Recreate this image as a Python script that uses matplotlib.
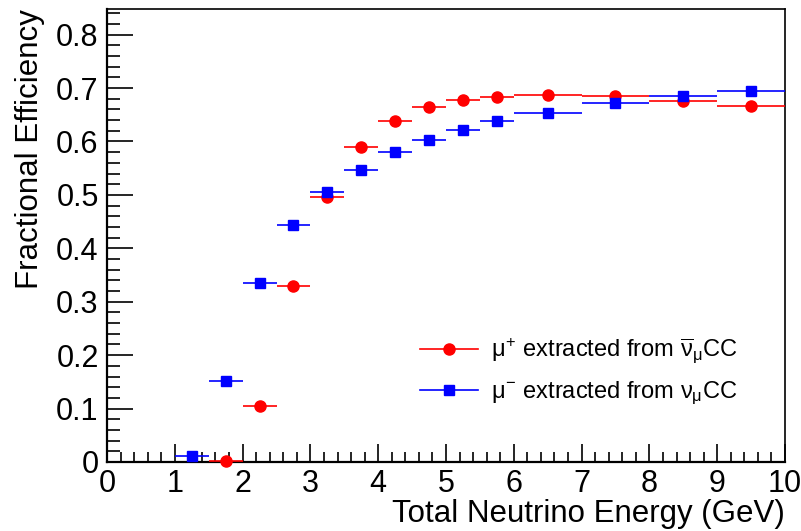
import matplotlib.pyplot as plt
from matplotlib.lines import Line2D
import numpy as np

plt.rcParams['font.family'] = ['Liberation Sans', 'DejaVu Sans']
plt.rcParams['mathtext.fontset'] = 'custom'
plt.rcParams['mathtext.rm'] = 'Liberation Sans'
plt.rcParams['mathtext.it'] = 'Liberation Sans'
plt.rcParams['mathtext.bf'] = 'Liberation Sans:bold'

# bin edges (GeV) and efficiencies
lo_plus = np.array([1.5, 2.0, 2.5, 3.0, 3.5, 4.0, 4.5, 5.0, 5.5, 6.0, 7.0, 8.0, 9.0])
hi_plus = np.array([2.0, 2.5, 3.0, 3.5, 4.0, 4.5, 5.0, 5.5, 6.0, 7.0, 8.0, 9.0, 10.0])
eff_plus = np.array([0.001, 0.105, 0.330, 0.496, 0.589, 0.639, 0.664, 0.678, 0.684, 0.687, 0.686, 0.676, 0.667])

lo_minus = np.array([1.0, 1.5, 2.0, 2.5, 3.0, 3.5, 4.0, 4.5, 5.0, 5.5, 6.0, 7.0, 8.0, 9.0])
hi_minus = np.array([1.5, 2.0, 2.5, 3.0, 3.5, 4.0, 4.5, 5.0, 5.5, 6.0, 7.0, 8.0, 9.0, 10.0])
eff_minus = np.array([0.011, 0.151, 0.336, 0.444, 0.505, 0.547, 0.581, 0.602, 0.622, 0.638, 0.654, 0.672, 0.685, 0.694])

lab_plus = r'$\mu^{+}$ extracted from $\overline{\nu}_{\mu}$CC'
lab_minus = r'$\mu^{-}$ extracted from $\nu_{\mu}$CC'

fig = plt.figure(figsize=(8.01, 5.31), dpi=100)
ax = fig.add_axes([0.1336, 0.130, 0.8464, 0.853])

xc = (lo_plus + hi_plus) / 2
ax.errorbar(xc, eff_plus, xerr=(hi_plus - lo_plus) / 2, fmt='o', color='#ff0000',
            ms=8, elinewidth=1.2, capsize=0, clip_on=False, zorder=3)
xc = (lo_minus + hi_minus) / 2
ax.errorbar(xc, eff_minus, xerr=(hi_minus - lo_minus) / 2, fmt='s', color='#0000ff',
            ms=7.5, elinewidth=1.2, capsize=0, clip_on=False, zorder=3)

ax.set_xlim(0, 10)
ax.set_ylim(0, 0.848)
ax.set_xticks(np.arange(0, 11, 1))
ax.set_xticks(np.arange(0, 10.01, 0.2), minor=True)
ax.set_yticks(np.arange(0, 0.81, 0.1))
ax.set_yticklabels(['0', '0.1', '0.2', '0.3', '0.4', '0.5', '0.6', '0.7', '0.8'])
ax.set_yticks(np.arange(0, 0.849, 0.02), minor=True)
ax.tick_params(axis='both', which='both', direction='in', labelsize=22, width=1.2)
ax.tick_params(axis='x', which='major', length=13, pad=5)
ax.tick_params(axis='x', which='minor', length=7)
ax.tick_params(axis='y', which='major', length=19, pad=6)
ax.tick_params(axis='y', which='minor', length=9)
for s in ['left', 'bottom']:
    ax.spines[s].set_linewidth(1.6)
for s in ['top', 'right']:
    ax.spines[s].set_linewidth(1.2)

ax.set_xlabel('Total Neutrino Energy (GeV)', fontsize=22.5, loc='right', labelpad=0)
ax.set_ylabel('Fractional Efficiency', fontsize=22.5, loc='top', labelpad=8)

handles = [Line2D([], [], color='#ff0000', marker='o', ms=8, lw=1.2),
           Line2D([], [], color='#0000ff', marker='s', ms=7.5, lw=1.2)]
ax.legend(handles, [lab_plus, lab_minus], loc='center left',
          bbox_to_anchor=(0.462, 0.199), frameon=False,
          fontsize=17, handlelength=2.45, handletextpad=0.55, labelspacing=0.55,
          borderpad=0, borderaxespad=0)

fig.savefig('out.png', dpi=100)
